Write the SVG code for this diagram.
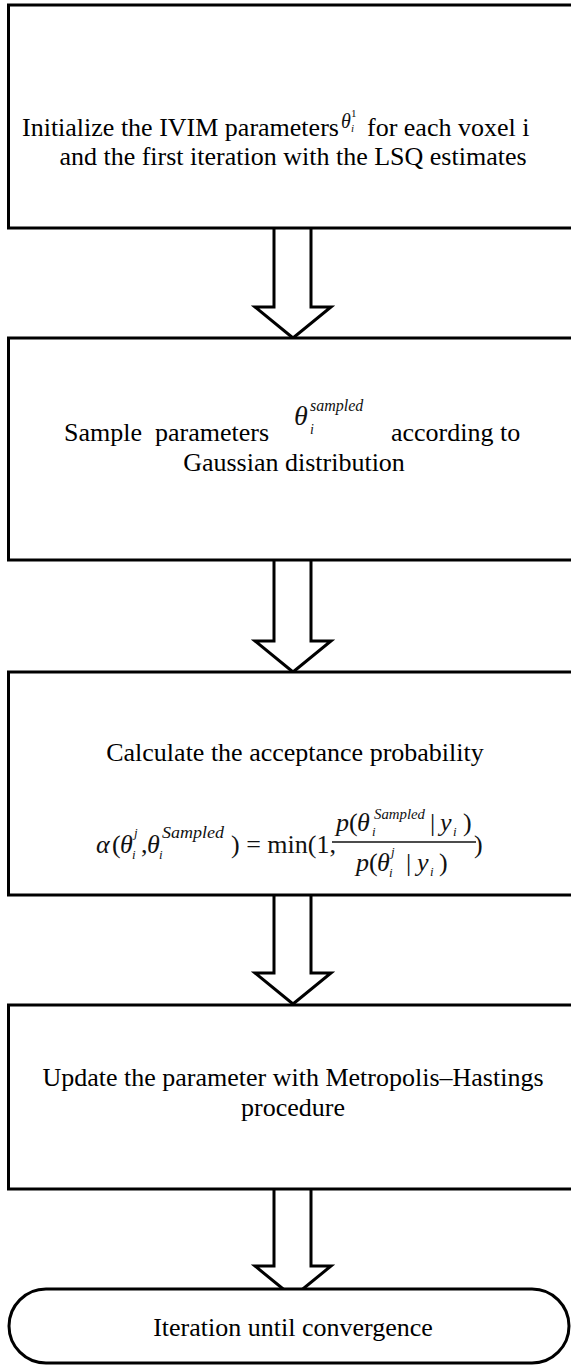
<svg xmlns="http://www.w3.org/2000/svg" width="571" height="1367" viewBox="0 0 571 1367">
<style>
.box{fill:#fff;stroke:#000;stroke-width:3}
.arr{fill:#fff;stroke:#000;stroke-width:3;stroke-linejoin:miter}
.t{font-family:"Liberation Serif","Times New Roman",serif;font-size:26px;fill:#000}
.m{font-family:"Liberation Serif","Times New Roman",serif;font-style:italic;fill:#111}
.r{font-family:"Liberation Serif","Times New Roman",serif;fill:#111}
</style>
<rect width="571" height="1367" fill="#fff"/>
<g id="connectors">
<path class="arr" d="M274,228 V307 H255 L293,338 L331,307 H311 V228"/>
<path class="arr" d="M274,560 V641 H255 L293,672 L331,641 H311 V560"/>
<path class="arr" d="M274,895 V973 H255 L293,1004 L331,973 H311 V895"/>
<path class="arr" d="M274,1189 V1266 H255 L293,1297 L331,1266 H311 V1189"/>
</g>
<g id="n1">
<rect class="box" x="8.5" y="5" width="570" height="223"/>
<text class="t" x="22" y="136">Initialize the IVIM parameters</text>
<text class="m" x="341" y="128" font-size="20">θ</text>
<text class="r" x="351" y="117" font-size="11">1</text>
<text class="m" x="351" y="132" font-size="11">i</text>
<text class="t" x="367" y="136">for each voxel i</text>
<text class="t" x="293" y="165" text-anchor="middle">and the first iteration with the LSQ estimates</text>
</g>
<g id="n2">
<rect class="box" x="8.5" y="338" width="570" height="222"/>
<text class="t" x="64" y="441" xml:space="preserve">Sample  parameters</text>
<text class="m" x="294" y="425" font-size="28">θ</text>
<text class="m" x="310" y="411" font-size="16">sampled</text>
<text class="m" x="310" y="434" font-size="14">i</text>
<text class="t" x="391" y="441">according to</text>
<text class="t" x="294" y="471" text-anchor="middle">Gaussian distribution</text>
</g>
<g id="n3">
<rect class="box" x="8.5" y="672" width="570" height="223"/>
<text class="t" x="295" y="761" text-anchor="middle">Calculate the acceptance probability</text>
<text class="m" x="96" y="853" font-size="26">α</text>
<text class="r" x="112" y="853" font-size="26">(</text>
<text class="m" x="120" y="853" font-size="26">θ</text>
<text class="m" x="134" y="837" font-size="13">j</text>
<text class="m" x="132" y="859" font-size="13">i</text>
<text class="r" x="141" y="853" font-size="26">,</text>
<text class="m" x="147" y="853" font-size="26">θ</text>
<text class="m" x="162" y="838" font-size="16" textLength="62" lengthAdjust="spacingAndGlyphs">Sampled</text>
<text class="m" x="159" y="859" font-size="13">i</text>
<text class="r" x="231" y="853" font-size="26">) = min(1,</text>
<line x1="332" y1="842" x2="476" y2="842" stroke="#111" stroke-width="1.5"/>
<text class="m" x="336" y="831" font-size="26">p</text>
<text class="r" x="349" y="831" font-size="26">(</text>
<text class="m" x="357" y="831" font-size="26">θ</text>
<text class="m" x="374" y="819" font-size="15" textLength="51" lengthAdjust="spacingAndGlyphs">Sampled</text>
<text class="m" x="372" y="836" font-size="13">i</text>
<text class="r" x="430" y="831" font-size="26">|</text>
<text class="m" x="440" y="831" font-size="26">y</text>
<text class="m" x="453" y="836" font-size="13">i</text>
<text class="r" x="463" y="831" font-size="26">)</text>
<text class="r" x="474" y="853" font-size="26">)</text>
<text class="m" x="356" y="871" font-size="26">p</text>
<text class="r" x="369" y="871" font-size="26">(</text>
<text class="m" x="377" y="871" font-size="26">θ</text>
<text class="m" x="391" y="856" font-size="13">j</text>
<text class="m" x="389" y="877" font-size="13">i</text>
<text class="r" x="406" y="871" font-size="26">|</text>
<text class="m" x="417" y="871" font-size="26">y</text>
<text class="m" x="430" y="876" font-size="13">i</text>
<text class="r" x="439" y="871" font-size="26">)</text>
</g>
<g id="n4">
<rect class="box" x="8.5" y="1005" width="570" height="184"/>
<text class="t" x="293" y="1086" text-anchor="middle">Update the parameter with Metropolis–Hastings</text>
<text class="t" x="293" y="1116" text-anchor="middle">procedure</text>
</g>
<g id="n5">
<rect class="box" x="9" y="1289" width="560" height="74" rx="37" ry="37"/>
<text class="t" x="293" y="1336" text-anchor="middle">Iteration until convergence</text>
</g>
</svg>
